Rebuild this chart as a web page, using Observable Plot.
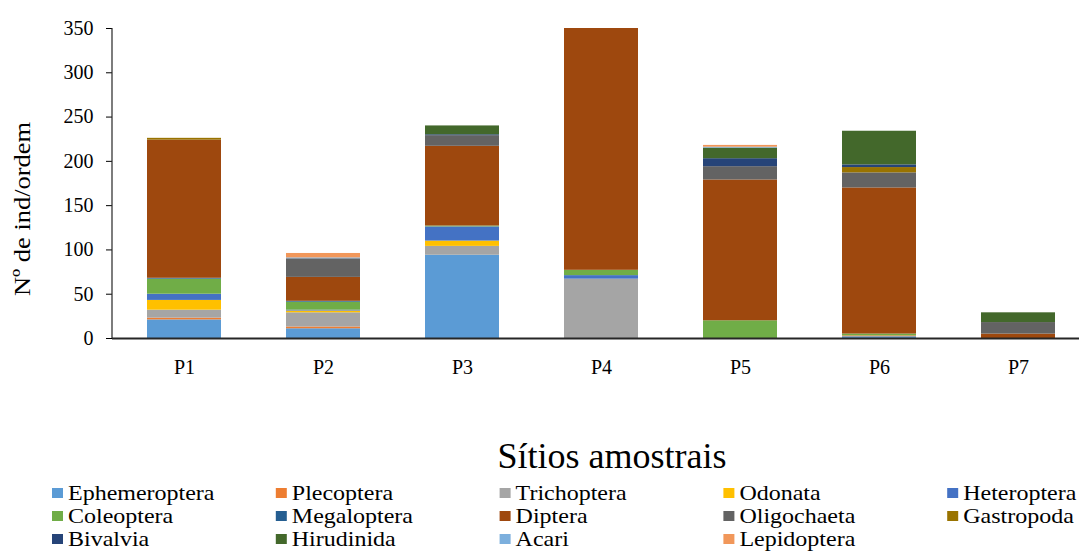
<!DOCTYPE html>
<html>
<head>
<meta charset="utf-8">
<script src="https://cdn.jsdelivr.net/npm/d3@7"></script>
<script src="https://cdn.jsdelivr.net/npm/@observablehq/plot@0.6"></script>
<style>
  body { margin: 0; background: #fff; color: #000; }
  #wrap { position: relative; width: 1079px; height: 552px; overflow: hidden; background: #fff; }
  #chart { position: absolute; left: 0; top: 0; }
  #overlay { position: absolute; left: 0; top: 0; pointer-events: none; }
</style>
</head>
<body>
<div id="wrap">
  <div id="chart"></div>
  <svg id="overlay" width="1079" height="552"></svg>
</div>
<script>
// ---- data ----
const sites = ["P1", "P2", "P3", "P4", "P5", "P6", "P7"];
const taxa = ["Ephemeroptera", "Plecoptera", "Trichoptera", "Odonata", "Heteroptera",
              "Coleoptera", "Megaloptera", "Diptera", "Oligochaeta", "Gastropoda",
              "Bivalvia", "Hirudinida", "Acari", "Lepidoptera"];
const colors = ["#5B9BD5", "#ED7D31", "#A5A5A5", "#FFC000", "#4472C4",
                "#70AD47", "#255E91", "#9E480E", "#636363", "#997300",
                "#264478", "#43682B", "#7CAFDD", "#F1975A"];
const yTicks = [0, 50, 100, 150, 200, 250, 300, 350];
const yTitle = "Nº de ind/ordem";
const xTitle = "Sítios amostrais";

const ephemeroptera = [21, 11, 94, 0, 0, 2, 0];
const plecoptera    = [2, 2, 0, 0, 0, 1, 0];
const trichoptera   = [9, 16, 10, 67, 0, 0, 0];
const odonata       = [11, 2, 6, 0, 0, 0, 0];
const heteroptera   = [7, 1, 16, 4, 0, 0, 0];
const coleoptera    = [17, 9, 1, 6, 20, 2, 0];
const megaloptera   = [1, 1, 0, 0, 0, 0, 0];
const diptera       = [156, 27, 90, 273, 159, 165, 5];
const oligochaeta   = [0, 21, 12, 0, 15, 17, 13];
const gastropoda    = [2, 0, 0, 0, 0, 6, 0];
const bivalvia      = [0, 0, 1, 0, 9, 3, 0];
const hirudinida    = [0, 0, 10, 0, 12, 38, 11];
const acari         = [0, 1, 0, 0, 1, 0, 0];
const lepidoptera   = [0, 5, 0, 0, 2, 0, 0];

const series = [ephemeroptera, plecoptera, trichoptera, odonata, heteroptera,
                coleoptera, megaloptera, diptera, oligochaeta, gastropoda,
                bivalvia, hirudinida, acari, lepidoptera];

const rows = [];
taxa.forEach((t, i) => sites.forEach((s, j) => rows.push({site: s, taxon: t, value: series[i][j]})));

const font = '"Liberation Serif", "Times New Roman", serif';

const chart = Plot.plot({
  width: 1079,
  height: 380,
  marginLeft: 112,
  marginRight: 0,
  marginTop: 28,
  marginBottom: 42,
  style: {fontFamily: font, fontSize: "20px", color: "#000", background: "transparent"},
  x: {domain: sites, range: [112, 1089], paddingInner: 0.47, paddingOuter: 0.235, align: 0.5,
      label: null, tickSize: 0, tickPadding: 21},
  y: {domain: [0, 350], ticks: yTicks, tickSize: 6, tickPadding: 13, label: null},
  color: {domain: taxa, range: colors},
  marks: [
    Plot.barY(rows, {x: "site", y: "value", fill: "taxon"}),
    Plot.ruleY([0], {stroke: "#262626", strokeWidth: 2})
  ]
});

// y axis line drawn from the scales
const ys = chart.scale("y");
const xs = chart.scale("x");
d3.select(chart).append("line")
  .attr("x1", xs.range[0]).attr("x2", xs.range[0])
  .attr("y1", ys.apply(350)).attr("y2", ys.apply(0))
  .attr("stroke", "#262626").attr("stroke-width", 1.2);
d3.select(chart).selectAll("text").attr("font-family", font);

document.getElementById("chart").appendChild(chart);

// titles and legend as SVG text
const ov = d3.select("#overlay");
ov.append("text")
  .attr("transform", "translate(30,209) rotate(-90)")
  .attr("text-anchor", "middle")
  .attr("font-family", font).attr("font-size", 24).attr("fill", "#000")
  .attr("textLength", 174).attr("lengthAdjust", "spacingAndGlyphs")
  .text(yTitle);
ov.append("text")
  .attr("x", 612).attr("y", 468)
  .attr("text-anchor", "middle")
  .attr("font-family", font).attr("font-size", 36).attr("fill", "#000")
  .text(xTitle);

taxa.forEach((t, i) => {
  const col = i % 5, row = Math.floor(i / 5);
  const x0 = 52 + col * 223.8, y0 = 488 + row * 23;
  ov.append("rect").attr("x", x0).attr("y", y0).attr("width", 11).attr("height", 10).attr("fill", colors[i]);
  ov.append("text")
    .attr("transform", `translate(${x0 + 16},${y0 + 12}) scale(1.2,1)`)
    .attr("font-family", font).attr("font-size", 20).attr("fill", "#000")
    .text(t);
});
</script>
</body>
</html>
